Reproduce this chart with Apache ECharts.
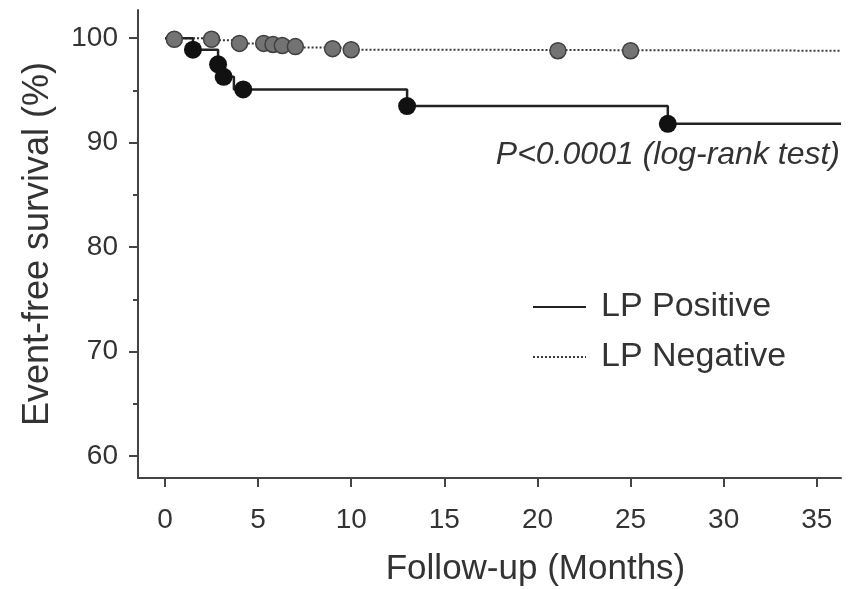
<!DOCTYPE html>
<html>
<head>
<meta charset="utf-8">
<script src="https://cdn.jsdelivr.net/npm/echarts@6/dist/echarts.min.js"></script>
<style>html,body{margin:0;padding:0;background:#fff;}#c{width:859px;height:589px;}</style>
</head>
<body>
<div id="c"></div>
<script>
// Kaplan-Meier step curves (months, %)
const positiveCurve = [[0,100],[1.5,98.9],[2.85,97.5],[3.15,96.3],[3.7,95.1],[13,93.5],[27,91.8],[36.3,91.8]];
const positiveEvents = [[1.5,98.9],[2.85,97.5],[3.15,96.3],[4.2,95.1],[13,93.5],[27,91.8]];
const negativeCurve = [[0,100],[2.7,99.8],[3.6,99.5],[6.1,99.3],[6.8,99.1],[9.6,98.9],[15,98.8],[36.3,98.8]];
const negativeCensored = [[0.5,99.9],[2.5,99.9],[4.0,99.5],[5.3,99.5],[5.8,99.4],[6.3,99.3],[7.0,99.2],[9.0,99.0],[10.0,98.9],[21.1,98.8],[25.0,98.8]];
const xTicks = [0,5,10,15,20,25,30,35];
const yTicks = [60,70,80,90,100];
const yMinorTicks = [65,75,85,95];
const seriesNames = ['LP Positive','LP Negative'];
const pText = 'P<0.0001 (log-rank test)';

const font = '"Liberation Sans", Arial, sans-serif';
const axisColor = '#444';
const textColor = '#333';

const chart = echarts.init(document.getElementById('c'), null, {renderer:'canvas'});
chart.setOption({
  animation: false,
  backgroundColor: '#fff',
  grid: {left:138, right:18, top:10, bottom:111, containLabel:false, outerBoundsMode:'none'},
  legend: {
    data: seriesNames,
    orient: 'vertical',
    left: 527, top: 285,
    itemWidth: 53, itemHeight: 24, itemGap: 16,
    itemStyle: {color:'transparent', borderColor:'transparent', borderWidth:0},
    textStyle: {fontFamily: font, fontSize: 34, color: textColor, padding:[0,0,0,10]},
    selectedMode: false
  },
  xAxis: {
    type: 'value', min: -1.45, max: 36.3,
    name: 'Follow-up (Months)', nameLocation: 'middle', nameGap: 74,
    nameTextStyle: {fontFamily: font, fontSize: 35, color: textColor, padding:[0,0,0,92]},
    axisLine: {show:true, onZero:false, lineStyle:{color:axisColor, width:2}},
    axisTick: {show:true, length:9, lineStyle:{color:axisColor, width:2}, customValues: xTicks},
    axisLabel: {fontFamily: font, fontSize: 28, color: textColor, margin: 28, customValues: xTicks},
    splitLine: {show:false}
  },
  yAxis: [{
    type: 'value', min: 57.9, max: 102.7,
    name: 'Event-free survival (%)', nameLocation: 'middle', nameGap: 82,
    nameTextStyle: {fontFamily: font, fontSize: 36, color: textColor},
    axisLine: {show:true, onZero:false, lineStyle:{color:axisColor, width:2}},
    axisTick: {show:true, length:9, lineStyle:{color:axisColor, width:2}, customValues: yTicks},
    axisLabel: {fontFamily: font, fontSize: 28, color: textColor, margin: 20, customValues: yTicks},
    splitLine: {show:false}
  },{
    type: 'value', min: 57.9, max: 102.7, position:'left',
    axisLine: {show:false, onZero:false},
    axisTick: {show:true, length:5, lineStyle:{color:axisColor, width:2}, customValues: yMinorTicks},
    axisLabel: {show:false},
    splitLine: {show:false}
  }],
  series: [
    {name: seriesNames[0], type:'line', step:'end', data: positiveCurve, symbol:'none',
     lineStyle:{color:'#222', width:2.5}, itemStyle:{color:'#222'}, z:3},
    {name: seriesNames[1], type:'line', step:'end', data: negativeCurve, symbol:'none',
     lineStyle:{color:'#3a3a3a', width:2, type:[2,2]}, itemStyle:{color:'#3a3a3a'}, z:2},
    {name: 'pos-events', type:'scatter', data: positiveEvents, symbol:'circle', symbolSize:18,
     itemStyle:{color:'#111', opacity:1}, z:5},
    {name: 'neg-censored', type:'scatter', data: negativeCensored, symbol:'circle', symbolSize:16,
     itemStyle:{color:'#737373', borderColor:'#404040', borderWidth:1.5, opacity:1}, z:4}
  ],
  graphic: [{
    type:'text', right: 19, top: 139,
    style:{text: pText, font: 'italic 32px ' + font, fill: textColor}
  }]
});
</script>
</body>
</html>
